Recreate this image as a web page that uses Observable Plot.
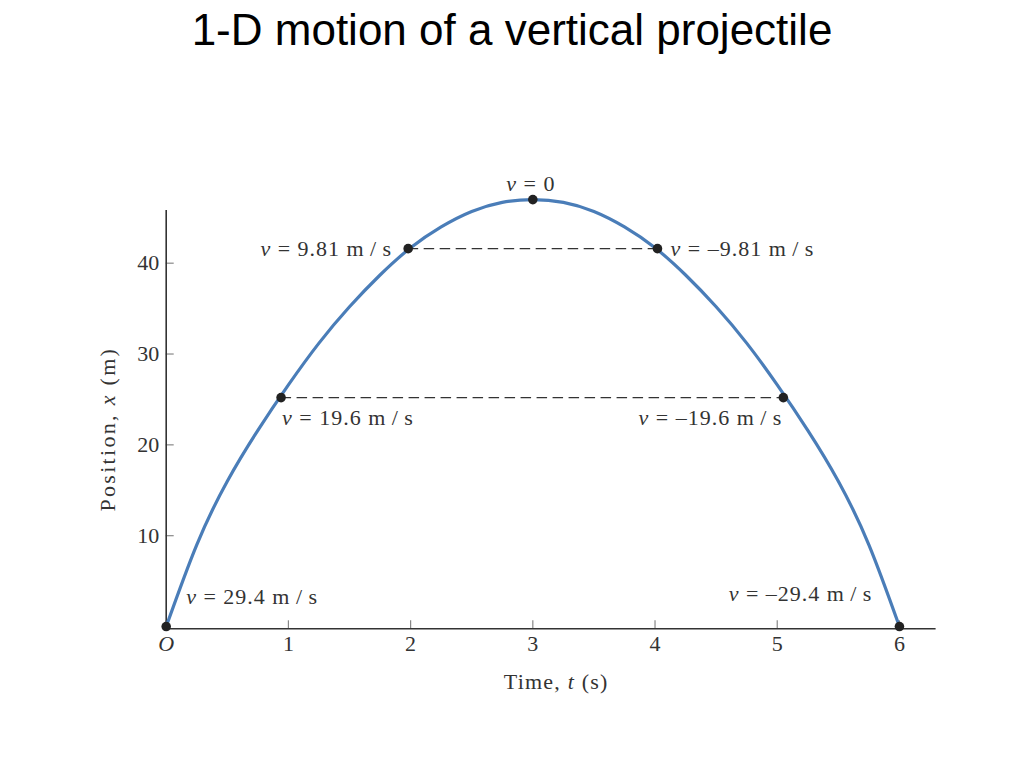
<!DOCTYPE html>
<html><head><meta charset="utf-8">
<script src="https://cdn.jsdelivr.net/npm/d3@7"></script>
<script src="https://cdn.jsdelivr.net/npm/@observablehq/plot@0.6"></script>
<style>
body{margin:0;background:#fff;}
#title{height:60px;line-height:60px;text-align:center;font-family:"Liberation Sans",Arial,sans-serif;font-size:44px;color:#000;white-space:nowrap;}
#chart svg{display:block;}
</style></head><body>
<div id="title">1-D motion of a vertical projectile</div>
<div id="chart"></div>
<script>
// curve
const times = [0, 0.25, 0.5, 0.75, 1, 1.25, 1.5, 1.75, 2, 2.25, 2.5, 2.75, 3,
               3.25, 3.5, 3.75, 4, 4.25, 4.5, 4.75, 5, 5.25, 5.5, 5.75, 6];
const positions = [0, 9.0, 16.0, 21.6, 26.6, 31.2, 35.2, 38.7, 41.7, 44.0, 45.7, 46.7, 47.0,
                   46.7, 45.7, 44.0, 41.7, 38.7, 35.2, 31.2, 26.6, 21.6, 16.0, 9.0, 0];
// marked points
const markTimes = [0, 0.94, 1.98, 3, 4.02, 5.05, 6];
const markPositions = [0, 25.2, 41.6, 47, 41.6, 25.2, 0];
const markLabels = ["v = 29.4 m/s", "v = 19.6 m/s", "v = 9.81 m/s", "v = 0",
                    "v = –9.81 m/s", "v = –19.6 m/s", "v = –29.4 m/s"];
// dashed guide lines
const dashLevels = [41.6, 25.2];
const dashStarts = [1.98, 0.94];
const dashEnds = [4.02, 5.05];
// axes
const xTicks = [0, 1, 2, 3, 4, 5, 6];
const xTickLabels = ["O", "1", "2", "3", "4", "5", "6"];
const yTicks = [10, 20, 30, 40];
const xDomain = [0, 6.3];
const yDomain = [-0.25, 45.8];
const xLabel = "Time, t (s)";
const yLabel = "Position, x (m)";

// layout (style only)
const labelLayout = [
  {anchor: "start", dx: 20, dy: -30},
  {anchor: "start", dx: 1, dy: 20},
  {anchor: "end", dx: -16, dy: 0},
  {anchor: "middle", dx: -2, dy: -16},
  {anchor: "start", dx: 13, dy: 0},
  {anchor: "end", dx: -1, dy: 20},
  {anchor: "end", dx: -27, dy: -33}
];

const curve = times.map((t, i) => ({t, x: positions[i]}));
const marks = markTimes.map((t, i) => ({t, x: markPositions[i], label: markLabels[i]}));
const dashes = dashLevels.map((x, i) => ({x, t1: dashStarts[i], t2: dashEnds[i]}));
const fmt = s => s.replace(" m/s", " m\u2009/\u2009s");

const textColor = "#333";
const plot = Plot.plot({
  width: 1024,
  height: 708,
  marginLeft: 165.7,
  marginRight: 88.4,
  marginTop: 150,
  marginBottom: 139.7,
  style: {fontFamily: "'Liberation Serif', 'DejaVu Serif', serif", fontSize: "22px", color: textColor, background: "#fff"},
  x: {domain: xDomain},
  y: {domain: yDomain},
  marks: [
    Plot.ruleY(dashes, {y: "x", x1: "t1", x2: "t2", stroke: "#333", strokeWidth: 1.1, strokeDasharray: "10.5,5.5"}),
    Plot.axisX(xTicks, {tickSize: -8, stroke: "#888", strokeWidth: 1.2, fill: "none", label: null}),
    Plot.axisX(xTicks, {tickSize: 0, tickPadding: 7, tickFormat: (d, i) => xTickLabels[i], fill: textColor, fontSize: 22, label: null}),
    Plot.axisY(yTicks, {tickSize: -8, stroke: "#888", strokeWidth: 1.2, fill: "none", label: null}),
    Plot.axisY(yTicks, {tickSize: 0, tickPadding: 7, fill: textColor, fontSize: 22, label: null}),
    Plot.ruleY([yDomain[0]], {stroke: "#333", strokeWidth: 1.6}),
    Plot.ruleX([xDomain[0]], {stroke: "#333", strokeWidth: 1.6}),
    Plot.line(curve, {x: "t", y: "x", stroke: "#4a7db8", strokeWidth: 3.2, curve: "natural"}),
    Plot.dot(marks, {x: "t", y: "x", r: 4.8, fill: "#222", stroke: "none"}),
    ...marks.map((m, i) => Plot.text([m], {
      x: "t", y: "x", text: d => fmt(d.label),
      textAnchor: labelLayout[i].anchor, dx: labelLayout[i].dx, dy: labelLayout[i].dy,
      fill: textColor, fontSize: 22, lineAnchor: "middle"
    })),
    Plot.text([xLabel], {frameAnchor: "bottom", text: d => d, textAnchor: "middle", dx: 5, dy: 53, fill: textColor, fontSize: 22, lineAnchor: "middle"}),
    Plot.text([yLabel], {frameAnchor: "left", text: d => d, textAnchor: "middle", rotate: -90, dx: -58.7, dy: 9.5, fill: textColor, fontSize: 22, lineAnchor: "middle"})
  ]
});
document.getElementById("chart").appendChild(plot);

// italicise math symbols and widen label spacing
d3.select(plot).selectAll("text").each(function () {
  const el = d3.select(this);
  if (el.selectAll("tspan").size() > 0) return;
  const s = this.textContent;
  if (s === "O") { el.style("font-style", "italic"); return; }
  if (s.startsWith("v = ")) {
    el.text(null).style("letter-spacing", "1px");
    el.append("tspan").style("font-style", "italic").text("v");
    el.append("tspan").text(s.slice(1));
  } else if (s === xLabel || s === yLabel) {
    const sym = s === xLabel ? "t" : "x";
    const idx = s.indexOf(", " + sym + " ") + 2;
    el.text(null).style("letter-spacing", s === xLabel ? "1.2px" : "2.3px");
    el.append("tspan").text(s.slice(0, idx));
    el.append("tspan").style("font-style", "italic").text(sym);
    el.append("tspan").text(s.slice(idx + 1));
  }
});
</script>
</body></html>
